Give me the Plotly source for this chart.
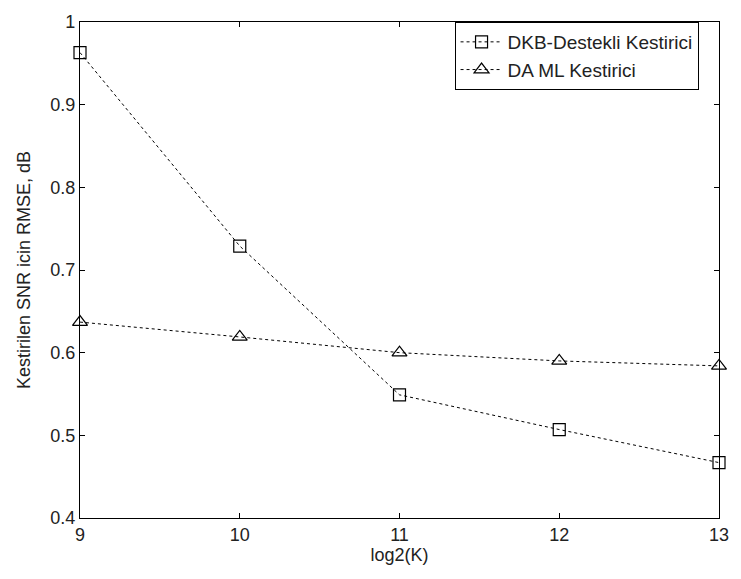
import plotly.graph_objects as go

log2K = [9, 10, 11, 12, 13]
dkb_rmse = [0.963, 0.729, 0.549, 0.507, 0.467]
daml_rmse = [0.637, 0.619, 0.600, 0.590, 0.584]

series_names = ["DKB-Destekli Kestirici", "DA ML Kestirici"]
x_ticks = [9, 10, 11, 12, 13]
y_ticks = [0.4, 0.5, 0.6, 0.7, 0.8, 0.9, 1.0]
y_tick_labels = ["0.4", "0.5", "0.6", "0.7", "0.8", "0.9", "1"]

FONT = "Liberation Sans, Arial, sans-serif"

fig = go.Figure()
fig.add_trace(go.Scatter(
    x=log2K, y=dkb_rmse, name=series_names[0], mode="lines+markers",
    line=dict(color="black", width=1, dash="3px,3px"),
    marker=dict(symbol="square-open", size=12, color="black", line=dict(width=1.2)),
    cliponaxis=False,
))
fig.add_trace(go.Scatter(
    x=log2K, y=daml_rmse, name=series_names[1], mode="lines+markers",
    line=dict(color="black", width=1, dash="3px,3px"),
    marker=dict(symbol="triangle-up-open", size=13, color="black", line=dict(width=1.2)),
    cliponaxis=False,
))

axis_common = dict(
    showgrid=False, zeroline=False, showline=True, linecolor="black", linewidth=1.2,
    mirror="ticks", ticks="inside", ticklen=5, tickcolor="black",
    tickfont=dict(family=FONT, size=18, color="#222"),
)
fig.update_xaxes(range=[9, 13], tickvals=x_ticks,
                 title=dict(text="log2(K)", font=dict(family=FONT, size=18, color="#222"), standoff=4), **axis_common)
fig.update_yaxes(range=[0.4, 1.0], tickvals=y_ticks, ticktext=y_tick_labels,
                 title=dict(text="Kestirilen SNR icin RMSE, dB", font=dict(family=FONT, size=18, color="#222"), standoff=14), **axis_common)

fig.update_layout(
    width=741, height=579,
    margin=dict(l=80, r=12, t=13, b=61),
    paper_bgcolor="white", plot_bgcolor="white",
    font=dict(family=FONT, size=18, color="#222"),
    showlegend=True,
    legend=dict(x=0.968, y=1.0, xanchor="right", yanchor="top",
                bordercolor="black", borderwidth=1, bgcolor="white",
                font=dict(family=FONT, size=19), itemwidth=42, tracegroupgap=0),
)

fig.write_html("out.html")
